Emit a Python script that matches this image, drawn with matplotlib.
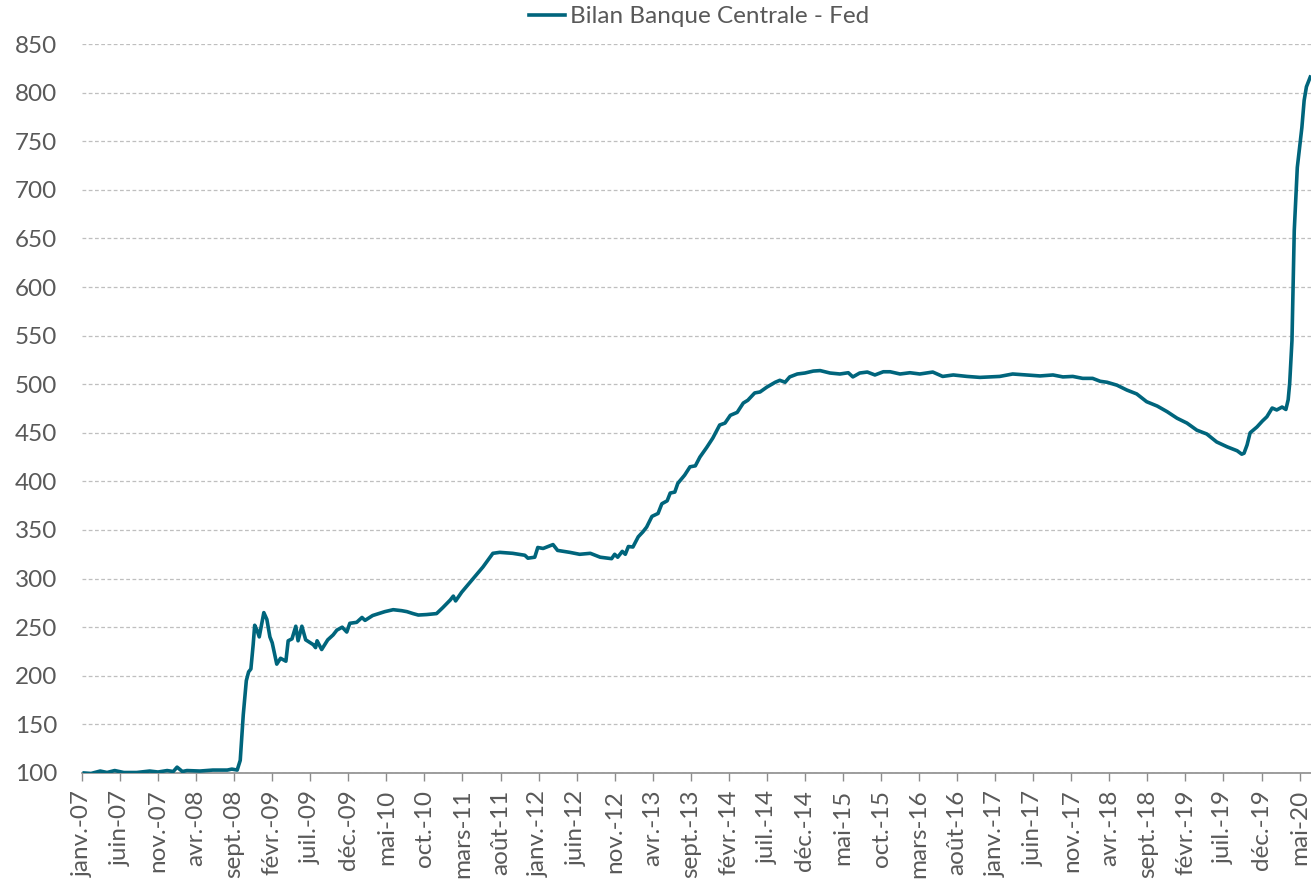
"""
Bilan de la Fed, base 100 en janvier 2007.
Weekly series read off the chart, x in months since janv.-07.
"""

import numpy as np
import matplotlib
matplotlib.use("Agg")
import matplotlib.pyplot as plt

# ── Data ───────────────────────────────────────────────────────
# months elapsed since 1 Jan 2007
months = [
    0.3, 1.2, 2.4, 3.3, 4.3, 5.5, 7.2, 8.9, 10.0, 11.2, 12.0, 12.5, 13.2, 13.8,
    15.5, 17.2, 19.1, 19.7, 20.4, 20.8, 21.2, 21.6, 21.9, 22.2, 22.5, 22.7,
    23.0, 23.3, 23.9, 24.3, 24.7, 25.0, 25.6, 26.1, 26.8, 27.1, 27.6, 28.1,
    28.4, 28.9, 29.4, 30.4, 30.7, 30.9, 31.5, 32.3, 33.0, 33.5, 34.2, 34.8,
    35.2, 36.1, 36.8, 37.2, 38.2, 39.8, 40.9, 42.0, 42.7, 43.5, 44.2, 45.3,
    46.6, 47.4, 48.4, 48.8, 49.1, 49.9, 51.4, 52.7, 54.0, 54.9, 56.6, 58.2,
    58.6, 59.5, 59.9, 60.6, 61.9, 62.5, 64.1, 65.4, 66.8, 68.1, 69.6, 70.0,
    70.4, 71.0, 71.4, 71.8, 72.4, 73.1, 73.7, 74.2, 74.9, 75.7, 76.2, 76.9,
    77.3, 77.9, 78.3, 79.2, 79.9, 80.6, 81.2, 82.1, 82.9, 83.8, 84.5, 85.2,
    86.1, 86.9, 87.5, 88.4, 89.1, 90.0, 91.1, 91.7, 92.4, 93.0, 94.0, 95.0,
    96.1, 97.0, 98.3, 99.6, 100.7, 101.3, 102.2, 103.2, 104.2, 105.3, 106.2,
    107.5, 108.8, 110.1, 111.8, 113.1, 114.5, 116.3, 118.0, 119.3, 120.6,
    122.3, 124.2, 125.9, 127.6, 128.9, 130.2, 131.5, 132.8, 133.8, 134.7,
    136.0, 137.3, 138.6, 139.9, 141.3, 142.6, 143.9, 145.2, 146.5, 147.8,
    149.1, 150.5, 151.8, 152.4, 152.7, 153.1, 153.5, 154.4, 155.1, 155.7,
    156.4, 157.0, 157.7, 158.2, 158.5, 158.7, 159.0, 159.3, 159.7, 160.2,
    160.3, 160.6, 160.9, 161.4,
]
fed_balance = [
    100, 99.5, 102, 100.5, 102.5, 100.5, 100.5, 102, 101, 102.5, 101.5, 106, 101.5, 102.5,
    102, 103, 103, 104, 103, 113, 160, 195, 204, 207, 232, 252,
    247, 240, 265, 258, 240, 234, 212, 218, 215, 236, 238, 251,
    236, 251, 237, 232, 229, 236, 227, 237, 242, 247, 250, 245,
    254, 255, 260, 257, 262, 266, 268, 267, 266, 264, 262.5, 263,
    264, 270, 278, 282, 277, 286, 300, 312, 326, 327, 326, 324,
    321, 322, 332, 331, 335, 329, 327, 325, 326, 322, 320.5, 325,
    322, 328, 325, 333, 332.5, 343, 348, 353, 364, 367, 377, 380,
    388, 389, 398, 406.5, 415, 416, 425, 435, 444.6, 458, 460, 468,
    471, 480.6, 483.5, 491, 492, 497, 502, 504, 502, 507.5, 510.5, 511.5,
    513.5, 514, 511.5, 510.5, 511.8, 507.5, 511.5, 512.5, 509.5, 512.8, 512.8,
    510.5, 511.8, 510.5, 512.5, 508, 509.5, 508, 507, 507.5, 508,
    510.5, 509.5, 508.5, 509.5, 507.5, 508, 506, 506, 503, 502,
    499, 494, 490, 482, 477.5, 471.7, 465, 460, 452.7, 448.8,
    440.6, 435.5, 431.5, 428, 429, 437.5, 450, 456, 462, 466.5,
    475.5, 473.5, 476.5, 474, 484, 501, 545, 658, 723, 758,
    764, 792, 806, 816,
]

tick_labels = [
    "janv.-07", "juin-07", "nov.-07", "avr.-08", "sept.-08", "févr.-09", "juil.-09",
    "déc.-09", "mai-10", "oct.-10", "mars-11", "août-11", "janv.-12", "juin-12",
    "nov.-12", "avr.-13", "sept.-13", "févr.-14", "juil.-14", "déc.-14", "mai-15",
    "oct.-15", "mars-16", "août-16", "janv.-17", "juin-17", "nov.-17", "avr.-18",
    "sept.-18", "févr.-19", "juil.-19", "déc.-19", "mai-20",
]

# ── Style ──────────────────────────────────────────────────────
LINE_COL = "#00657C"
TEXT_COL = "#595959"
plt.rcParams["font.family"] = ["Lato", "DejaVu Sans"]

fig = plt.figure(figsize=(13.11, 8.82), dpi=100)
ax = fig.add_axes([0.0625, 0.1236, 0.9375, 0.8265])

ax.plot(months, fed_balance, color=LINE_COL, lw=2.6, label="Bilan Banque Centrale - Fed",
        solid_joinstyle="round", zorder=3)

ax.set_xlim(0, 161.5)
ax.set_ylim(100, 850)
ax.set_yticks(np.arange(100, 851, 50))
ax.set_xticks(np.arange(len(tick_labels)) * 5)
ax.set_xticklabels(tick_labels, rotation=90, fontsize=17.5, color=TEXT_COL)
ax.tick_params(axis="y", length=0, pad=18, labelsize=17.5, labelcolor=TEXT_COL)
ax.tick_params(axis="x", length=6, width=1, color="#8C8C8C", pad=6)

ax.grid(axis="y", color="#BFBFBF", linestyle=(0, (3, 2)), lw=0.9)
ax.set_axisbelow(True)
for side in ["top", "right", "left"]:
    ax.spines[side].set_visible(False)
ax.spines["bottom"].set_color("#8C8C8C")
ax.spines["bottom"].set_linewidth(1.2)

fig.legend(loc="upper center", bbox_to_anchor=(0.533, 1.018), frameon=False,
           fontsize=17.5, labelcolor=TEXT_COL, handlelength=1.5, handletextpad=0.2)

plt.savefig("out.png", dpi=100)
plt.close()
